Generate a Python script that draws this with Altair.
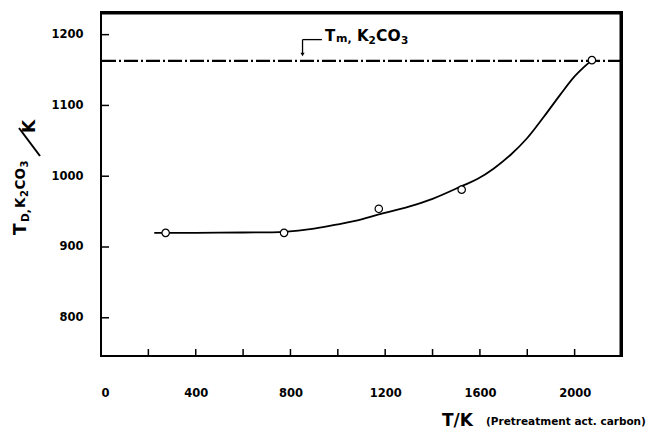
import altair as alt
import pandas as pd

# ---- data ----
pts_x = [273, 773, 1173, 1523, 2073]
pts_y = [920, 920, 954, 981, 1164]

curve_x = [225, 400, 600, 773, 900, 1000, 1100, 1173, 1300, 1400, 1523,
           1589, 1659, 1729, 1800, 1870, 1941, 1997, 2039, 2073]
curve_y = [920, 920, 920.5, 921.5, 926, 932, 939, 946, 957, 968, 986,
           996, 1011, 1030, 1054, 1084, 1116, 1140, 1154, 1164]

melt_y = [1163]
x_ticks = [200, 400, 600, 800, 1000, 1200, 1400, 1600, 1800, 2000]
x_labels = [0, 400, 800, 1200, 1600, 2000]
y_ticks = [800, 900, 1000, 1100, 1200]

arrow_x = [851, 933]
arrow_y = [1193, 1174]

X_DOM = [0, 2200]
Y_DOM = [746, 1232]
W, H = 521, 344
PL, PT = 101, 12
FONT = "DejaVu Sans"

xs = alt.Scale(domain=X_DOM, nice=False, zero=False)
ys = alt.Scale(domain=Y_DOM, nice=False, zero=False)

one = pd.DataFrame({"a": [0]})

pts = pd.DataFrame({"x": pts_x, "y": pts_y})
crv = pd.DataFrame({"x": curve_x, "y": curve_y})

base_x = alt.X("x:Q", scale=xs,
               axis=alt.Axis(values=x_labels, format="d", ticks=False, domain=False, grid=False,
                             labelPadding=31, labelFont=FONT, labelFontWeight="bold",
                             labelFontSize=11.5, labelColor="black", title=None))
base_y = alt.Y("y:Q", scale=ys,
               axis=alt.Axis(values=y_ticks, format="d", ticks=False, domain=False, grid=False,
                             labelPadding=18, labelFont=FONT, labelFontWeight="bold",
                             labelFontSize=11.5, labelColor="black", title=None))

curve = alt.Chart(crv).mark_line(color="black", strokeWidth=1.8, interpolate="catmull-rom").encode(
    x=base_x, y=base_y)

points = alt.Chart(pts).mark_point(shape="circle", filled=True, fill="white", stroke="black",
                                   strokeWidth=1.2, size=55, opacity=1).encode(
    x=alt.X("x:Q", scale=xs), y=alt.Y("y:Q", scale=ys))

melt = alt.Chart(pd.DataFrame({"y": melt_y})).mark_rule(
    color="black", strokeWidth=2.2, strokeDash=[14, 3, 2, 3]).encode(
    y=alt.Y("y:Q", scale=ys))

xt = alt.Chart(pd.DataFrame({"x": x_ticks})).mark_rule(color="black", strokeWidth=1.5).encode(
    x=alt.X("x:Q", scale=xs), y=alt.value(H), y2=alt.value(H - 7))
yt = alt.Chart(pd.DataFrame({"y": y_ticks})).mark_rule(color="black", strokeWidth=1.5).encode(
    y=alt.Y("y:Q", scale=ys), x=alt.value(0), x2=alt.value(8))


def edge(x, x2, y, y2):
    return alt.Chart(one).mark_rule(color="black", strokeWidth=2).encode(
        x=alt.value(x), x2=alt.value(x2), y=alt.value(y), y2=alt.value(y2))


# plot frame; top and right slightly inset
frame = [edge(0, W, 1.5, 1.5), edge(W - 1.5, W - 1.5, 0, H),
         edge(0, 0, 0, H), edge(0, W, H, H)]

# annotation arrow for T_m
arr_h = alt.Chart(pd.DataFrame({"x": [arrow_x[0]], "x2": [arrow_x[1]], "y": [arrow_y[0]]})).mark_rule(
    color="black", strokeWidth=1.3).encode(
    x=alt.X("x:Q", scale=xs), x2="x2:Q", y=alt.Y("y:Q", scale=ys))
arr_v = alt.Chart(pd.DataFrame({"x": [arrow_x[0]], "y": [arrow_y[0]], "y2": [arrow_y[1]]})).mark_rule(
    color="black", strokeWidth=1.3).encode(
    x=alt.X("x:Q", scale=xs), y=alt.Y("y:Q", scale=ys), y2="y2:Q")
arr_head = alt.Chart(pd.DataFrame({"x": [arrow_x[0]], "y": [arrow_y[1] - 2]})).mark_point(
    shape="triangle-down", filled=True, color="black", size=18, opacity=1).encode(
    x=alt.X("x:Q", scale=xs), y=alt.Y("y:Q", scale=ys))


def txt(text, px, py, size, angle=0, weight="bold"):
    return alt.Chart(one).mark_text(
        text=text, fontSize=size, angle=angle, align="left", baseline="alphabetic",
        font=FONT, fontWeight=weight, color="black").encode(
        x=alt.value(px - PL), y=alt.value(py - PT))


texts = []
# annotation "Tm, K2CO3"
for t, px, py, s in [("T", 325, 41, 15), ("m,", 336, 42, 11), ("K", 357, 41, 15),
                     ("2", 368.5, 44, 10.5), ("CO", 376, 41, 15.5), ("3", 401, 44, 10.5)]:
    texts.append(txt(t, px, py, s))

# y-axis title "T_D, K2CO3 / K" (rotated)
for t, px, py, s in [("T", 26, 235, 17), ("D,", 29, 222, 10.5), ("K", 24.5, 208, 13.5),
                     ("2", 27.5, 197, 10), ("CO", 24.5, 189.5, 13.5), ("3", 28, 167.5, 10),
                     ("K", 35, 133, 17)]:
    texts.append(txt(t, px, py, s, angle=270))

slash = alt.Chart(one).mark_rule(color="black", strokeWidth=2).encode(
    x=alt.value(40 - PL), y=alt.value(156 - PT), x2=alt.value(19 - PL), y2=alt.value(128 - PT))

# x-axis title
texts.append(txt("T/K", 442, 426, 17))
texts.append(txt("(Pretreatment act. carbon)", 486, 425, 10.5))

chart = alt.layer(curve, melt, xt, yt, *frame, arr_h, arr_v, arr_head, points, slash,
                  *texts).properties(
    width=W, height=H,
    autosize=alt.AutoSizeParams(type="none"),
    padding={"left": PL, "top": PT, "right": 660 - PL - W, "bottom": 433 - PT - H},
    background="white",
).configure_view(stroke="black", strokeWidth=2).configure_axis(domain=False)

chart.save("out.html", embed_options={"renderer": "svg", "actions": False})
